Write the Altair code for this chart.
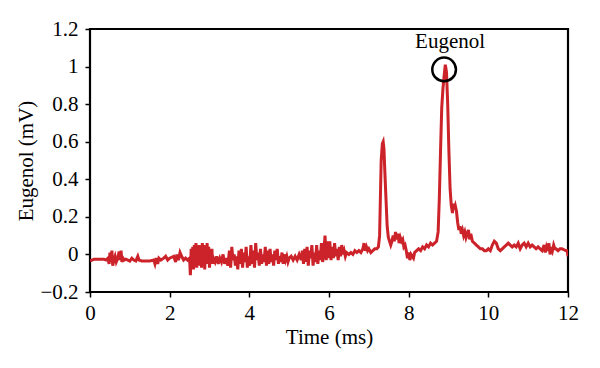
import altair as alt
import pandas as pd

# Time (ms)
time_ms = [
    0.00, 0.05, 0.10, 0.15, 0.20, 0.25, 0.30, 0.35, 0.40, 0.45, 0.48, 0.50, 0.52, 0.55, 0.57,
    0.60, 0.63, 0.66, 0.70, 0.73, 0.75, 0.78, 0.80, 0.83, 0.86, 0.90, 0.95, 1.00, 1.05, 1.10,
    1.15, 1.20, 1.23, 1.30, 1.40, 1.50, 1.60, 1.63, 1.66, 1.70, 1.73, 1.78, 1.85, 1.90, 1.95,
    2.00, 2.05, 2.10, 2.15, 2.18, 2.22, 2.26, 2.30, 2.35, 2.40, 2.45,
    2.50, 2.52, 2.54, 2.56, 2.58, 2.60, 2.62, 2.64, 2.66, 2.68, 2.70, 2.72, 2.74, 2.76, 2.78,
    2.80, 2.82, 2.84, 2.86, 2.88, 2.90, 2.92, 2.94, 2.96, 2.98, 3.00, 3.02, 3.04, 3.06, 3.08, 3.10,
    3.14, 3.18, 3.22, 3.26, 3.30, 3.34, 3.38, 3.42, 3.46, 3.50,
    3.53, 3.56, 3.59, 3.62, 3.65, 3.68, 3.71, 3.74, 3.77, 3.80, 3.83, 3.86, 3.89, 3.92, 3.95,
    3.98, 4.01, 4.04, 4.07, 4.10, 4.13, 4.16, 4.19, 4.22, 4.25, 4.28, 4.31, 4.34, 4.37, 4.40,
    4.43, 4.46, 4.49, 4.52, 4.55, 4.58, 4.61, 4.64, 4.67, 4.70, 4.73, 4.76, 4.79, 4.82, 4.85,
    4.88, 4.91, 4.94, 4.97,
    5.00, 5.05, 5.10, 5.15, 5.20, 5.25, 5.30,
    5.33, 5.36, 5.39, 5.42, 5.45, 5.48, 5.51, 5.54, 5.57, 5.60, 5.63, 5.66, 5.69, 5.72, 5.75,
    5.78, 5.81, 5.84, 5.87, 5.90, 5.93, 5.96, 5.99, 6.02, 6.05, 6.08, 6.11, 6.14, 6.17, 6.20,
    6.23, 6.26, 6.29, 6.32, 6.35, 6.38, 6.41, 6.44,
    6.50, 6.55, 6.60, 6.65, 6.70, 6.75, 6.80, 6.85, 6.88, 6.91, 6.94, 6.97, 7.00, 7.05, 7.10,
    7.15, 7.20, 7.24,
    7.27, 7.29, 7.31, 7.34, 7.36, 7.38, 7.40, 7.43, 7.46, 7.49, 7.52, 7.55, 7.58,
    7.61, 7.64, 7.67, 7.70, 7.73, 7.76, 7.79, 7.82, 7.85, 7.88, 7.91, 7.94, 7.97, 8.00, 8.03,
    8.06, 8.09, 8.12, 8.15, 8.20, 8.25, 8.30, 8.35, 8.40, 8.45, 8.50, 8.55, 8.60, 8.65, 8.70,
    8.74, 8.77, 8.80, 8.83, 8.86, 8.89, 8.92, 8.95, 8.98, 9.01, 9.04, 9.07, 9.10, 9.12, 9.14,
    9.17, 9.20, 9.23, 9.26, 9.29, 9.32, 9.35, 9.38, 9.41, 9.44, 9.47, 9.50, 9.53, 9.56, 9.60,
    9.65, 9.70, 9.75, 9.80, 9.85, 9.90, 9.95, 10.00, 10.05, 10.10, 10.15, 10.20, 10.25, 10.30,
    10.35, 10.40, 10.45, 10.50, 10.55, 10.60, 10.65, 10.70, 10.75, 10.80, 10.85, 10.90, 10.95,
    11.00, 11.05, 11.10, 11.15, 11.20, 11.25, 11.30, 11.35, 11.40, 11.43, 11.46, 11.49, 11.52,
    11.55, 11.58, 11.61, 11.64, 11.67, 11.70, 11.75, 11.80, 11.85, 11.90, 11.95, 11.98, 12.00,
]

# Signal (mV)
signal_mv = [
    -0.035, -0.03, -0.025, -0.025, -0.025, -0.025, -0.025, -0.025, -0.03, -0.02, -0.05, 0.01, -0.04, 0.02, -0.06,
    -0.03, -0.01, -0.04, -0.02, 0.015, -0.03, 0.02, -0.04, -0.02, -0.03, -0.025, -0.03, -0.035, -0.02, -0.03,
    -0.035, -0.01, -0.03, -0.035, -0.035, -0.035, -0.03, -0.05, -0.02, -0.05, -0.02, -0.03, -0.02, -0.01, -0.03,
    -0.02, -0.015, -0.01, -0.04, 0.0, -0.03, 0.01, -0.01, -0.03, -0.02, -0.03,
    -0.02, -0.11, 0.03, -0.06, 0.04, -0.08, 0.05, -0.02, 0.06, -0.07, 0.04, -0.05, 0.05, -0.06, 0.03,
    -0.07, 0.06, -0.04, 0.05, -0.08, 0.02, -0.05, 0.06, -0.03, 0.04, -0.07, 0.02, -0.04, 0.03, -0.05, -0.02,
    -0.04, -0.01, -0.05, -0.02, -0.04, 0.0, -0.05, -0.02, -0.06, 0.02,
    -0.07, 0.04, -0.03, 0.0, -0.06, -0.01, -0.08, 0.02, -0.05, 0.03, -0.07, 0.01, -0.04, 0.04, -0.07,
    -0.01, -0.06, 0.05, -0.05, 0.02, -0.07, 0.06, -0.03, 0.01, -0.06, 0.03, -0.05, 0.0, -0.04, 0.04,
    -0.06, 0.02, -0.05, 0.03, -0.04, 0.0, -0.06, 0.02, -0.03, 0.03, -0.05, -0.01, -0.04, 0.01, -0.05,
    0.0, -0.03, -0.01, -0.04,
    -0.02, -0.01, -0.03, -0.01, -0.03, 0.0, -0.03,
    0.02, -0.05, 0.03, -0.04, 0.04, -0.06, 0.02, -0.02, 0.05, -0.06, 0.01, -0.04, 0.05, -0.05, 0.02,
    -0.03, 0.06, -0.04, 0.01, 0.10, -0.03, 0.07, -0.02, 0.07, -0.03, 0.04, -0.02, 0.06, -0.01, 0.03,
    -0.03, 0.04, -0.01, 0.05, 0.0, 0.02, -0.01, 0.01,
    0.0, 0.01, 0.0, 0.02, 0.01, 0.02, 0.01, 0.03, 0.06, 0.02, 0.04, 0.02, 0.03, 0.01, 0.02,
    0.03, 0.03, 0.04,
    0.10, 0.30, 0.50, 0.59, 0.60, 0.56, 0.45, 0.30, 0.15, 0.09, 0.07, 0.05, 0.07,
    0.10, 0.07, 0.12, 0.08, 0.11, 0.06, 0.09, 0.07, 0.08, 0.04, 0.05, 0.02, -0.02, 0.01, -0.03,
    0.0, -0.01, -0.02, 0.01, 0.02, 0.03, 0.02, 0.04, 0.03, 0.05, 0.04, 0.06, 0.05, 0.06, 0.07,
    0.12, 0.30, 0.55, 0.78, 0.88, 0.95, 1.01, 0.97, 0.80, 0.55, 0.35, 0.26, 0.22, 0.27, 0.24,
    0.26, 0.23, 0.17, 0.13, 0.15, 0.11, 0.13, 0.10, 0.12, 0.09, 0.11, 0.13, 0.08, 0.11, 0.07,
    0.06, 0.05, 0.04, 0.03, 0.03, 0.02, 0.02, 0.03, 0.02, 0.05, 0.07, 0.06, 0.03, 0.02,
    0.03, 0.04, 0.05, 0.06, 0.05, 0.04, 0.05, 0.04, 0.06, 0.03, 0.05, 0.06, 0.04,
    0.06, 0.04, 0.05, 0.04, 0.03, 0.04, 0.03, 0.02, 0.05, 0.01, 0.04, 0.02, 0.06,
    0.0, 0.04, 0.02, 0.05, 0.03, 0.03, 0.02, 0.03, 0.03, 0.025, 0.02, 0.02, -0.01,
]

annot_x = [8.89]
annot_y = [0.985]
label_x = [9.04]
label_y = [1.13]
label_text = ["Eugenol"]

x_ticks = [0, 2, 4, 6, 8, 10, 12]
y_ticks = [-0.2, 0.0, 0.2, 0.4, 0.6, 0.8, 1.0, 1.2]

FONT = "Liberation Serif"
RED = "#cc2229"

df = pd.DataFrame({"t": time_ms, "v": signal_mv})
df_c = pd.DataFrame({"t": annot_x, "v": annot_y})
df_l = pd.DataFrame({"t": label_x, "v": label_y, "txt": label_text})

xs = alt.Scale(domain=[0, 12], nice=False, zero=False)
ys = alt.Scale(domain=[-0.2, 1.2], nice=False, zero=False)

X = alt.X("t:Q", scale=xs, title="Time (ms)",
          axis=alt.Axis(values=x_ticks, format="~g", labelOverlap=False,
                        labelFlush=False, labelPadding=5, titlePadding=3))
Y = alt.Y("v:Q", scale=ys, title="Eugenol (mV)",
          axis=alt.Axis(values=y_ticks, format=".1~f", labelOverlap=False,
                        labelFlush=False, labelPadding=7, titlePadding=3))

line = alt.Chart(df).mark_line(color=RED, strokeWidth=3, clip=True).encode(x=X, y=Y)

circle = alt.Chart(df_c).mark_point(shape="circle", size=560, filled=False,
                                    color="black", strokeWidth=2.5, opacity=1).encode(x=X, y=Y)

label = alt.Chart(df_l).mark_text(font=FONT, fontSize=21, color="black").encode(
    x=X, y=Y, text="txt:N"
)

chart = alt.layer(line, circle, label).properties(
    width=478, height=263,
    autosize=alt.AutoSizeParams(type="none"),
    padding={"left": 82, "top": 21, "right": 20, "bottom": 60},
).configure_view(
    stroke="black", strokeWidth=2.2
).configure_axis(
    grid=False, domain=False,
    ticks=True, tickColor="black", tickWidth=1.5, tickSize=5,
    labelFont=FONT, labelFontSize=21, labelColor="black",
    titleFont=FONT, titleFontSize=21, titleColor="black", titleFontWeight="normal",
)

chart.save("out.html", embed_options={"renderer": "svg", "actions": False})
